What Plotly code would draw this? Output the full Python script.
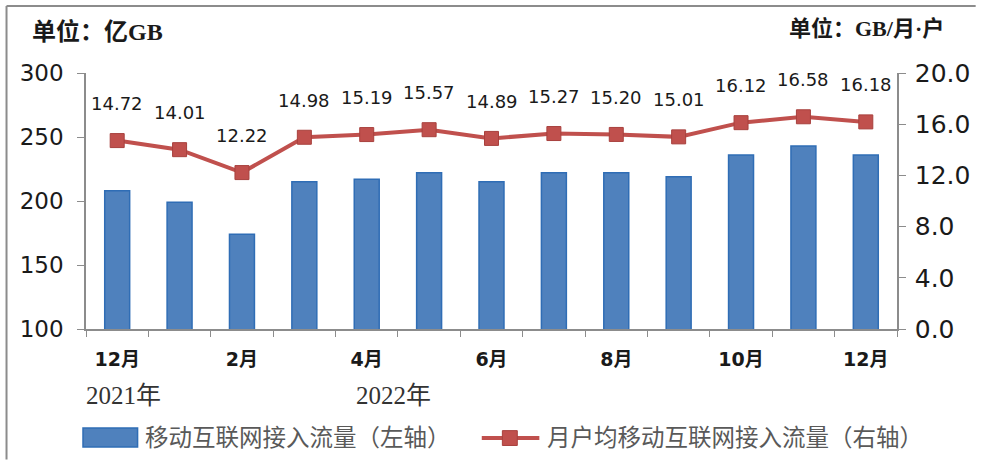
import plotly.graph_objects as go

months = ["2021-12", "2022-01", "2022-02", "2022-03", "2022-04", "2022-05", "2022-06",
          "2022-07", "2022-08", "2022-09", "2022-10", "2022-11", "2022-12"]
tick_labels = ["12月", "", "2月", "", "4月", "", "6月", "", "8月", "", "10月", "", "12月"]
traffic = [208, 199, 174, 215, 217, 222, 215, 222, 222, 219, 236, 243, 236]
per_user = [14.72, 14.01, 12.22, 14.98, 15.19, 15.57, 14.89, 15.27, 15.20, 15.01, 16.12, 16.58, 16.18]
year_labels = ["2021年", "2022年"]
year_months = ["2021-12", "2022-04"]

name_bar = "移动互联网接入流量（左轴）"
name_line = "月户均移动互联网接入流量（右轴）"

BAR_COLOR = "#4F81BD"
LINE_COLOR = "#C0504D"
NUM = "DejaVu Sans"
SERIF = "Liberation Serif, Noto Sans CJK SC"

fig = go.Figure()
fig.add_trace(go.Bar(
    x=months, y=traffic, name=name_bar, yaxis="y", width=0.4,
    marker=dict(color=BAR_COLOR, line=dict(color="#2F6DB5", width=1.5)),
))
fig.add_trace(go.Scatter(
    x=months, y=per_user, name=name_line, yaxis="y2", mode="lines+markers",
    line=dict(color=LINE_COLOR, width=4),
    marker=dict(symbol="square", size=14, color=LINE_COLOR, line=dict(color="#A8403D", width=1)),
))

ann = []
for m, v in zip(months, per_user):
    ann.append(dict(x=m, y=v, xref="x", yref="y2", text=f"{v:.2f}", showarrow=False,
                    yshift=37, font=dict(family=NUM, size=18, color="#1a1a1a")))
for m, t, dx in zip(year_months, year_labels, [6, 27]):
    ann.append(dict(x=m, y=-0.258, xref="x", yref="paper", text=t, showarrow=False,
                    xshift=dx, yanchor="middle",
                    font=dict(family=SERIF, size=25, color="#333333")))
ann.append(dict(x=-0.0685, y=1.164, xref="paper", yref="paper", xanchor="left", yanchor="middle",
                text="<b>单位：亿GB</b>", showarrow=False,
                font=dict(family=SERIF, size=24, color="#1a1a1a")))
ann.append(dict(x=1.061, y=1.172, xref="paper", yref="paper", xanchor="right", yanchor="middle",
                text="<b>单位：GB/月·户</b>", showarrow=False,
                font=dict(family=SERIF, size=22, color="#1a1a1a")))
# custom legend texts
ann.append(dict(x=0.0698, y=-0.426, xref="paper", yref="paper", xanchor="left", yanchor="middle",
                text=name_bar, showarrow=False,
                font=dict(family=SERIF, size=23.5, color="#595959")))
ann.append(dict(x=0.5655, y=-0.426, xref="paper", yref="paper", xanchor="left", yanchor="middle",
                text=name_line, showarrow=False,
                font=dict(family=SERIF, size=23.5, color="#595959")))

shapes = [
    # outer frame (left and top edges)
    dict(type="line", xref="paper", yref="paper", x0=-0.098, x1=-0.098, y0=-0.51, y1=1.262,
         line=dict(color="#8c8c8c", width=2)),
    dict(type="line", xref="paper", yref="paper", x0=-0.098, x1=1.097, y0=1.262, y1=1.262,
         line=dict(color="#8c8c8c", width=2)),
    # legend symbols
    dict(type="rect", xref="paper", yref="paper", x0=-0.0037, x1=0.0636, y0=-0.461, y1=-0.387,
         fillcolor=BAR_COLOR, line=dict(color="#2F6DB5", width=1.5)),
    dict(type="line", xref="paper", yref="paper", x0=0.488, x1=0.559, y0=-0.426, y1=-0.426,
         line=dict(color=LINE_COLOR, width=4)),
    dict(type="rect", xref="paper", yref="paper", x0=0.5226 - 0.0092, x1=0.5226 + 0.0092,
         y0=-0.426 - 0.029, y1=-0.426 + 0.029, fillcolor=LINE_COLOR,
         line=dict(color="#A8403D", width=1)),
]

fig.update_layout(
    width=982, height=460,
    margin=dict(l=86, r=79, t=73, b=131),
    paper_bgcolor="white", plot_bgcolor="white",
    showlegend=False,
    xaxis=dict(
        type="category", range=[-0.5, 12.5], tickvals=months,
        ticktext=[f"<b>{t}</b>" if t else "" for t in tick_labels], tickson="boundaries",
        ticks="outside", ticklen=6, tickcolor="#8c8c8c", showline=True, linecolor="#8c8c8c",
        linewidth=1.5, showgrid=False, ticklabelstandoff=12,
        tickfont=dict(family="DejaVu Sans, Noto Sans CJK SC", size=19, color="#1a1a1a"),
    ),
    yaxis=dict(
        range=[100, 300], tickvals=[100, 150, 200, 250, 300], ticks="outside", ticklen=7,
        tickcolor="#8c8c8c", showline=True, linecolor="#8c8c8c", linewidth=1.5, showgrid=False,
        zeroline=False, ticklabelstandoff=9, tickfont=dict(family=NUM, size=23, color="#1a1a1a"),
    ),
    yaxis2=dict(
        range=[0, 20], tickvals=[0, 4, 8, 12, 16, 20], tickformat=".1f", overlaying="y",
        side="right", ticks="outside", ticklen=7, tickcolor="#8c8c8c", showline=True,
        linecolor="#8c8c8c", linewidth=1.5, showgrid=False, zeroline=False,
        ticklabelstandoff=4, tickfont=dict(family=NUM, size=25, color="#1a1a1a"),
    ),
    annotations=ann,
    shapes=shapes,
)

fig.write_html("out.html", config={"displayModeBar": False},
               post_script="document.body.style.margin='0px';document.body.style.overflow='hidden';")
